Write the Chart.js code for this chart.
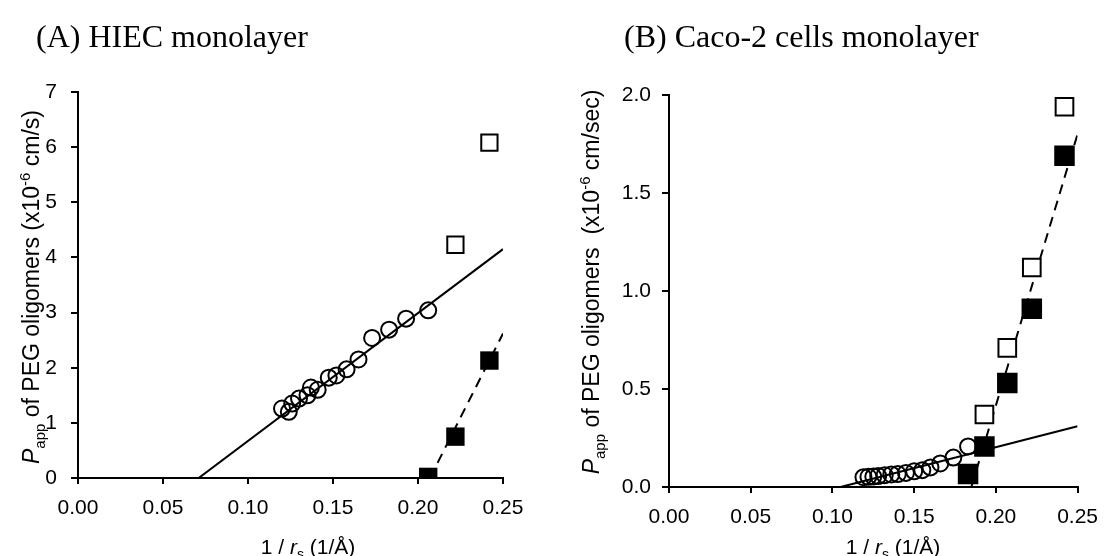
<!DOCTYPE html>
<html>
<head>
<meta charset="utf-8">
<script src="https://cdn.jsdelivr.net/npm/chart.js@4"></script>
<style>
  body { margin: 0; background: #fff; }
  #wrap { position: relative; width: 1110px; height: 556px; overflow: hidden; }
  .ttl { position: absolute; top: 18px; font-family: "Liberation Serif", "Times New Roman", serif; font-size: 32px; color: #000; white-space: nowrap; }
  .box { position: absolute; top: 0; width: 555px; height: 556px; }
</style>
</head>
<body>
<div id="wrap">
  <div class="box" style="left:0"><canvas id="chartA"></canvas></div>
  <div class="box" style="left:555px"><canvas id="chartB"></canvas></div>
  <div class="ttl" style="left:36px">(A) HIEC monolayer</div>
  <div class="ttl" style="left:624px">(B) Caco-2 cells monolayer</div>
</div>
<script>
// (A) HIEC
var hiecCircleX = [0.120, 0.124, 0.126, 0.130, 0.135, 0.137, 0.141, 0.1475, 0.152, 0.158, 0.165, 0.173, 0.183, 0.193, 0.206];
var hiecCircleY = [1.26, 1.20, 1.35, 1.44, 1.50, 1.64, 1.60, 1.82, 1.86, 1.97, 2.15, 2.54, 2.69, 2.89, 3.04];
var hiecOpenX = [0.222, 0.242];
var hiecOpenY = [4.23, 6.08];
var hiecFillX = [0.206, 0.222, 0.242];
var hiecFillY = [0.02, 0.75, 2.13];
var hiecFitX = [0.071, 0.25];
var hiecFitY = [0, 4.15];
var hiecDashX = [0.207, 0.25];
var hiecDashY = [0, 2.62];

// (B) Caco-2
var cacoCircleX = [0.119, 0.122, 0.125, 0.128, 0.132, 0.136, 0.140, 0.145, 0.150, 0.155, 0.160, 0.166, 0.174, 0.183];
var cacoCircleY = [0.050, 0.052, 0.053, 0.056, 0.060, 0.064, 0.066, 0.072, 0.080, 0.086, 0.100, 0.120, 0.150, 0.207];
var cacoOpenX = [0.193, 0.207, 0.222, 0.242];
var cacoOpenY = [0.37, 0.71, 1.12, 1.94];
var cacoFillX = [0.183, 0.193, 0.207, 0.222, 0.242];
var cacoFillY = [0.066, 0.207, 0.53, 0.91, 1.69];
var cacoFitX = [0.105, 0.25];
var cacoFitY = [0, 0.31];
var cacoDashX = [0.185, 0.25];
var cacoDashY = [0, 1.80];

var xTicks = [0, 0.05, 0.10, 0.15, 0.20, 0.25];

function pts(xs, ys) {
  return xs.map(function(x, i) { return {x: x, y: ys[i]}; });
}

// draws a line of text made of pieces with different size / style
function richText(ctx, parts, cx, cy) {
  var total = 0;
  parts.forEach(function(p) {
    ctx.font = (p.italic ? 'italic ' : '') + p.size + 'px "Liberation Sans", Arial, sans-serif';
    p.w = ctx.measureText(p.t).width;
    total += p.w;
  });
  var x = cx - total / 2;
  ctx.textBaseline = 'alphabetic';
  ctx.textAlign = 'left';
  parts.forEach(function(p) {
    ctx.font = (p.italic ? 'italic ' : '') + p.size + 'px "Liberation Sans", Arial, sans-serif';
    ctx.fillText(p.t, x, cy + (p.dy || 0));
    x += p.w;
  });
}

function titlePlugin(yParts, yPos, xPos) {
  return {
    id: 'axisTitles',
    afterDraw: function(chart) {
      var ctx = chart.ctx;
      ctx.save();
      ctx.fillStyle = '#000';
      ctx.translate(yPos[0], yPos[1]);
      ctx.rotate(-Math.PI / 2);
      richText(ctx, yParts, 0, 0);
      ctx.restore();
      ctx.save();
      ctx.fillStyle = '#000';
      richText(ctx, [
        {t: '1 / ', size: 21},
        {t: 'r', size: 21, italic: true},
        {t: 's', size: 14, dy: 5},
        {t: ' (1/\u00C5)', size: 21}
      ], xPos[0], xPos[1]);
      ctx.restore();
    }
  };
}

function makeChart(id, ds, yMax, yStep, yDec, area, mk, yParts, yPos, xPos) {
  var cv = document.getElementById(id);
  cv.width = 555; cv.height = 556;
  var ctx = cv.getContext('2d');
  var tickFont = {family: '"Liberation Sans", Arial, sans-serif', size: 21};
  var config = {
    type: 'scatter',
    data: {
      datasets: [
        {data: ds.circle, pointStyle: 'circle', pointRadius: 8, pointBorderWidth: 2, borderColor: '#000', pointBackgroundColor: 'rgba(255,255,255,0)'},
        {data: ds.open, pointStyle: 'rect', pointRadius: mk.open, pointBorderWidth: 2, borderColor: '#000', pointBackgroundColor: '#fff'},
        {data: ds.fill, pointStyle: 'rect', pointRadius: mk.fill, pointBorderWidth: 0, borderColor: '#000', pointBackgroundColor: '#000'},
        {type: 'line', data: ds.fit, showLine: true, borderColor: '#000', borderWidth: 2, pointRadius: 0},
        {type: 'line', data: ds.dash, showLine: true, borderColor: '#000', borderWidth: 2, borderDash: [10, 7], pointRadius: 0}
      ]
    },
    options: {
      responsive: false,
      animation: false,
      layout: {padding: {left: 0, right: area.right, top: area.top, bottom: 0}},
      plugins: {legend: {display: false}, tooltip: {enabled: false}},
      scales: {
        x: {
          type: 'linear', min: 0, max: 0.25,
          afterBuildTicks: function(s) { s.ticks = xTicks.map(function(v) { return {value: v}; }); },
          afterFit: function(s) { s.height = area.bottom; },
          ticks: {color: '#000', font: tickFont, padding: 12, maxRotation: 0, callback: function(v) { return v.toFixed(2); }},
          grid: {drawOnChartArea: false, drawTicks: true, tickLength: 6, color: '#000', lineWidth: 2},
          border: {color: '#000', width: 2}
        },
        y: {
          min: 0, max: yMax,
          ticks: {stepSize: yStep, color: '#000', font: tickFont, padding: area.ypad, callback: function(v) { return v.toFixed(yDec); }},
          afterFit: function(s) { s.width = area.left; },
          grid: {drawOnChartArea: false, drawTicks: true, tickLength: 7, color: '#000', lineWidth: 2},
          border: {color: '#000', width: 2}
        }
      }
    },
    plugins: [titlePlugin(yParts, yPos, xPos)]
  };
  return new Chart(ctx, config);
}

makeChart('chartA', {
  circle: pts(hiecCircleX, hiecCircleY),
  open: pts(hiecOpenX, hiecOpenY),
  fill: pts(hiecFillX, hiecFillY),
  fit: pts(hiecFitX, hiecFitY),
  dash: pts(hiecDashX, hiecDashY)
}, 7, 1, 0, {left: 78, right: 52, top: 92, bottom: 78, ypad: 14}, {open: 11.5, fill: 13}, [
  {t: 'P', size: 23, italic: true},
  {t: 'app', size: 15, dy: 6},
  {t: ' of PEG oligomers (x10', size: 23},
  {t: '-6', size: 15, dy: -9},
  {t: ' cm/s)', size: 23}
], [39, 287], [308, 554]);

makeChart('chartB', {
  circle: pts(cacoCircleX, cacoCircleY),
  open: pts(cacoOpenX, cacoOpenY),
  fill: pts(cacoFillX, cacoFillY),
  fit: pts(cacoFitX, cacoFitY),
  dash: pts(cacoDashX, cacoDashY)
}, 2, 0.5, 1, {left: 114, right: 24, top: 95, bottom: 69, ypad: 11}, {open: 12.5, fill: 14.5}, [
  {t: 'P', size: 23, italic: true},
  {t: 'app', size: 15, dy: 6},
  {t: ' of PEG oligomers  (x10', size: 23},
  {t: '-6', size: 15, dy: -9},
  {t: ' cm/sec)', size: 23}
], [44, 282], [338, 554]);
</script>
</body>
</html>
